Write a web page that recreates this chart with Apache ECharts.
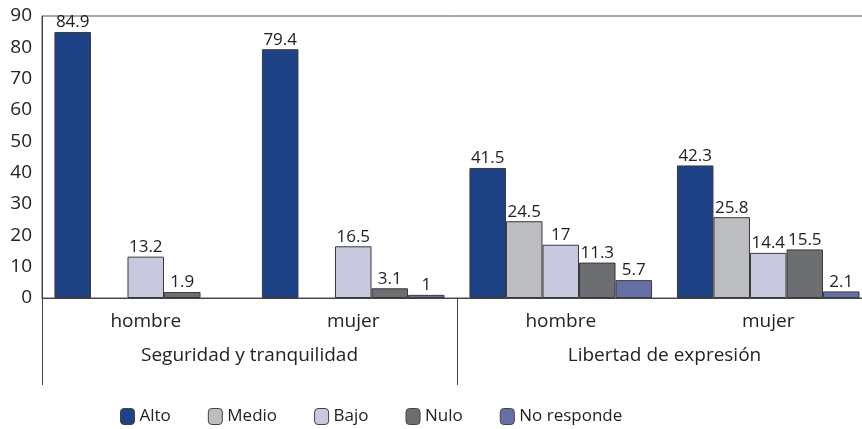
<!DOCTYPE html>
<html>
<head>
<meta charset="utf-8">
<script src="https://cdn.jsdelivr.net/npm/echarts@6/dist/echarts.min.js"></script>
<style>
  html, body { margin: 0; padding: 0; background: #fff; }
  #chart { width: 862px; height: 429px; }
</style>
</head>
<body>
<div id="chart"></div>
<script>
// sub categories (sexo) and the two topics
const groups = ['hombre', 'mujer', 'hombre', 'mujer']
const topics = ['Seguridad y tranquilidad', 'Libertad de expresión']
const yTicks = [0, 90, 10]

const alto = [84.9, 79.4, 41.5, 42.3]
const medio = ['-', '-', 24.5, 25.8]
const bajo = [13.2, 16.5, 17, 14.4]
const nulo = [1.9, 3.1, 11.3, 15.5]
const noResponde = ['-', 1, 5.7, 2.1]

const names = ['Alto', 'Medio', 'Bajo', 'Nulo', 'No responde']
const colors = ['#1f4287', '#bcbdc0', '#c8c9df', '#6d6e71', '#6670a8']
const values = [alto, medio, bajo, nulo, noResponde]

const textFont = 'Open Sans'

const chart = echarts.init(document.getElementById('chart'))

let option = {
  animation: false,
  grid: {
    left: 42,
    top: 16,
    right: -10,
    bottom: 131,
    outerBoundsMode: 'none',
    containLabel: false,
    show: true,
    borderColor: '#555',
    borderWidth: 1
  },
  legend: {
    left: 115,
    top: 403,
    itemWidth: 14,
    itemHeight: 16,
    itemGap: 37,
    data: names,
    textStyle: { fontFamily: textFont, fontSize: 17, color: '#222' },
    itemStyle: { borderColor: '#444', borderWidth: 1 }
  },
  xAxis: [
    {
      type: 'category',
      data: groups,
      axisLine: { lineStyle: { color: '#444' } },
      axisTick: { show: false },
      axisLabel: { interval: 0, margin: 14, fontFamily: textFont, fontSize: 19, color: '#222' }
    },
    {
      type: 'category',
      data: topics,
      position: 'bottom',
      axisLine: { show: false },
      axisTick: { show: true, length: 87, lineStyle: { color: '#444' } },
      axisLabel: { interval: 0, margin: 48, fontFamily: textFont, fontSize: 19, color: '#222' }
    }
  ],
  yAxis: {
    type: 'value',
    min: yTicks[0],
    max: yTicks[1],
    interval: yTicks[2],
    axisLine: { show: true, lineStyle: { color: '#444' } },
    axisTick: { show: false },
    splitLine: { show: false },
    axisLabel: { margin: 10, fontFamily: textFont, fontSize: 19, color: '#222' }
  },
  series: names.map((n, i) => ({
    name: n,
    type: 'bar',
    xAxisIndex: 0,
    data: values[i],
    barGap: 0,
    barCategoryGap: '12%',
    itemStyle: { color: colors[i], borderColor: '#3a3a3a', borderWidth: 1 },
    label: {
      show: true,
      position: 'top',
      distance: 1,
      fontFamily: textFont,
      fontSize: 17,
      color: '#222'
    }
  }))
}

chart.setOption(option)
</script>
</body>
</html>
